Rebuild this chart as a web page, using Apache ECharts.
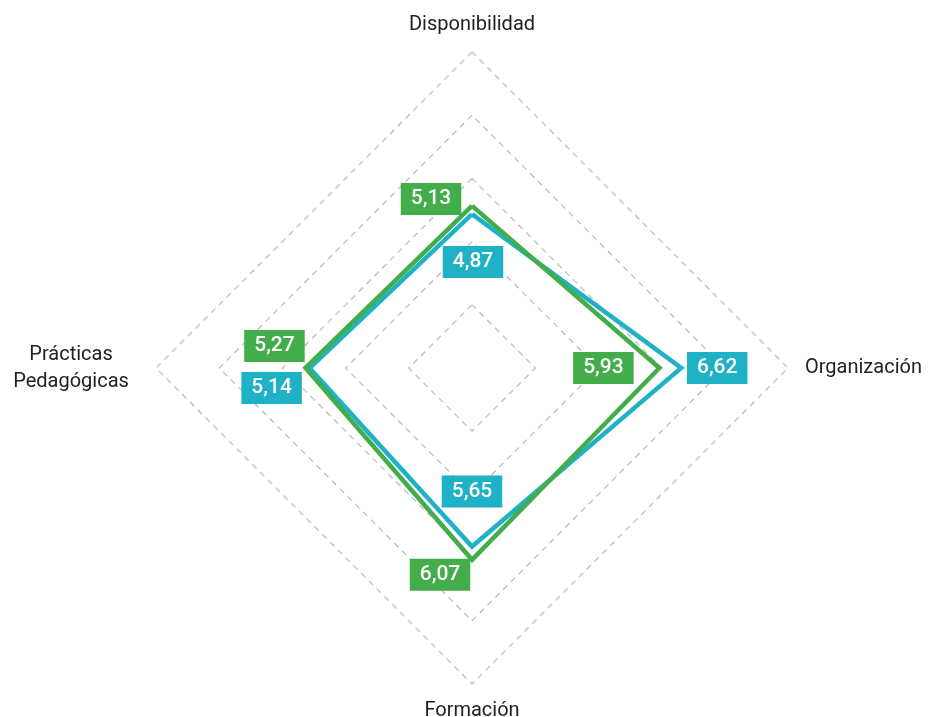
<!DOCTYPE html>
<html>
<head>
<meta charset="utf-8">
<script src="https://cdn.jsdelivr.net/npm/echarts@6/dist/echarts.min.js"></script>
<style>
  html, body { margin: 0; padding: 0; background: #fff; }
  #radar { width: 928px; height: 717px; }
</style>
</head>
<body>
<div id="radar"></div>
<script>
// indicadores (orden antihorario desde arriba)
const indicators = ['Disponibilidad', 'Prácticas\nPedagógicas', 'Formación', 'Organización'];
const maxValue = 10;
const serieVerde = [5.13, 5.27, 6.07, 5.93];
const serieAzul = [4.87, 5.14, 5.65, 6.62];

const CX = 472, CY = 368, RADIUS = 316;
const VERDE = '#42ad4a';
const AZUL = '#1fb1c5';

// desplazamiento de cada etiqueta respecto al vértice
const offsets = {
  verde: { top: [-41, -7], left: [-31, -22], bottom: [-32, 15], right: [-56, 0] },
  azul: { top: [1, 48], left: [-38, 20], bottom: [0, -55], right: [36, 0] }
};

function lado (rect) {
  let x = rect.x + rect.width / 2 - CX;
  let y = rect.y + rect.height / 2 - CY;
  if (Math.abs(y) > Math.abs(x)) return y < 0 ? 'top' : 'bottom';
  return x < 0 ? 'left' : 'right';
}

function etiqueta (color) {
  return {
    show: true,
    position: 'inside',
    color: '#fff',
    backgroundColor: color,
    fontFamily: 'Roboto',
    fontWeight: 500,
    fontSize: 21,
    lineHeight: 22,
    padding: [5, 10],
    formatter: p => {
      let v = Array.isArray(p.value) ? p.value[0] : p.value;
      return Number(v).toFixed(2).replace('.', ',');
    }
  };
}

let myChart = echarts.init(document.getElementById('radar'));

myChart.setOption({
  animation: false,
  radar: {
    center: [CX, CY],
    radius: RADIUS,
    shape: 'polygon',
    startAngle: 90,
    splitNumber: 5,
    nameGap: 17,
    indicator: indicators.map(n => ({ name: n, max: maxValue, min: 0 })),
    axisName: {
      color: '#222',
      fontFamily: 'Roboto',
      fontSize: 20,
      formatter: name => name.indexOf('\n') >= 0
        ? name.split('\n').map(s => '{c|' + s + '}').join('\n')
        : name,
      rich: {
        c: { width: 136, align: 'center', fontFamily: 'Roboto', fontSize: 20, lineHeight: 27, color: '#222' }
      }
    },
    axisLine: { show: false },
    axisTick: { show: false },
    axisLabel: { show: false },
    splitArea: { show: false },
    splitLine: {
      lineStyle: { color: '#bcbcbc', width: 1.2, type: [6, 5] }
    }
  },
  series: [
    {
      name: 'azul',
      type: 'radar',
      symbol: 'circle',
      symbolSize: 1,
      itemStyle: { color: 'rgba(0,0,0,0)', borderWidth: 0 },
      lineStyle: { color: AZUL, width: 4.5, join: 'miter' },
      label: etiqueta(AZUL),
      labelLayout: p => {
        let o = offsets.azul[lado(p.rect)];
        return { dx: o[0], dy: o[1] };
      },
      data: [{ value: serieAzul, name: 'azul' }]
    },
    {
      name: 'verde',
      type: 'radar',
      symbol: 'circle',
      symbolSize: 1,
      itemStyle: { color: 'rgba(0,0,0,0)', borderWidth: 0 },
      lineStyle: { color: VERDE, width: 4.5, join: 'miter' },
      label: etiqueta(VERDE),
      labelLayout: p => {
        let o = offsets.verde[lado(p.rect)];
        return { dx: o[0], dy: o[1] };
      },
      data: [{ value: serieVerde, name: 'verde' }]
    }
  ]
});
</script>
</body>
</html>
